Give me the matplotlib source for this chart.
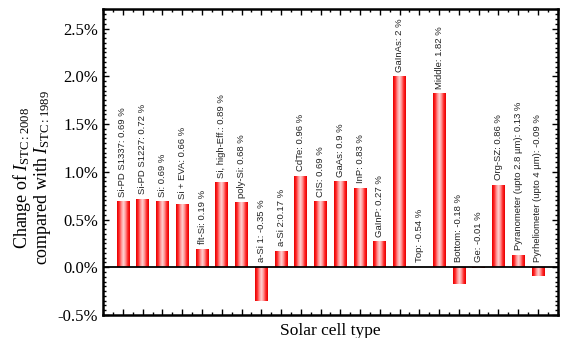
"""Change of short-circuit current between the 1989 and 2008 reference spectra."""

import matplotlib

matplotlib.use("Agg")
import matplotlib.pyplot as plt
import numpy as np
from matplotlib.colors import LinearSegmentedColormap
from matplotlib.patches import Rectangle
from matplotlib.ticker import MultipleLocator, FuncFormatter

plt.rcParams["mathtext.fontset"] = "custom"
plt.rcParams["mathtext.rm"] = "Liberation Serif"
plt.rcParams["mathtext.it"] = "Liberation Serif:italic"

CELL_NAMES = [
    "Si-PD S1337:", "Si-PD S1227:", "Si:", "Si + EVA:", "flt-Si:",
    "Si, high-Eff.:", "poly-Si:", "a-Si 1:", "a-Si 2:", "CdTe:", "CIS:",
    "GaAs:", "InP:", "GaInP:", "GaInAs:", "Top:", "Middle:", "Bottom:",
    "Ge:", "Org-SZ:", "Pyranometer (upto 2.8 µm):", "Pyrheliometer (upto 4 µm):",
]
LABEL_VALUES = ["0.69", "0.72", "0.69", "0.66", "0.19", "0.89", "0.68", "-0.35",
                "0.17", "0.96", "0.69", "0.9", "0.83", "0.27", "2", "-0.54",
                "1.82", "-0.18", "-0.01", "0.86", "0.13", "-0.09"]
# the top sub-cell has no bar in the plot, only its label
SHOW_BAR = [True] * 15 + [False] + [True] * 6
LABEL_SEP = {"a-Si 2:": ""}

values = np.array([float(v) for v in LABEL_VALUES])
x = np.arange(1, len(values) + 1)
bar_w = 0.64

fig, ax = plt.subplots(figsize=(5.61, 3.38), dpi=100)
fig.subplots_adjust(left=0.184, right=0.994, top=0.972, bottom=0.068)

shade = LinearSegmentedColormap.from_list(
    "bar_shade", ["#e80000", "#ff2828", "#ff9090", "#ffd4d4", "#ff9090", "#ff2828", "#e80000"]
)
grad = np.linspace(0, 1, 64).reshape(1, -1)

for xi, v, show in zip(x, values, SHOW_BAR):
    if not show:
        continue
    y0, y1 = min(0, v), max(0, v)
    rect = Rectangle((xi - bar_w / 2, y0), bar_w, y1 - y0, facecolor="none", edgecolor="none")
    ax.add_patch(rect)
    im = ax.imshow(grad, cmap=shade, aspect="auto",
                   extent=(xi - bar_w / 2, xi + bar_w / 2, y0, y1), zorder=2)
    im.set_clip_path(rect)

for xi, name, v in zip(x, CELL_NAMES, LABEL_VALUES):
    sep = LABEL_SEP.get(name, " ")
    top = max(0.0, float(v)) if name != "Top:" else 0.0
    ax.text(xi, top + 0.05, f"{name}{sep}{v} %", rotation=90, ha="center", va="bottom",
            fontsize=6.8, family="Liberation Sans", color="#222222")

ax.axhline(0, color="black", lw=1.3, zorder=3)

ax.set_xlim(0, len(values) + 1)
ax.set_ylim(-0.5, 2.7)
ax.xaxis.set_major_locator(MultipleLocator(1))
ax.xaxis.set_minor_locator(MultipleLocator(0.5))
ax.xaxis.set_major_formatter(FuncFormatter(lambda v, p: ""))
ax.yaxis.set_major_locator(MultipleLocator(0.5))
ax.yaxis.set_minor_locator(MultipleLocator(0.05))
ax.yaxis.set_major_formatter(FuncFormatter(lambda v, p: f"{v:.1f}%"))
ax.tick_params(which="both", direction="in", top=True, right=True, width=1.0)
ax.tick_params(which="major", length=4.5)
ax.tick_params(which="minor", length=2.2)
for lab in ax.get_yticklabels():
    lab.set_family("Liberation Serif")
    lab.set_fontsize(12)
for sp in ax.spines.values():
    sp.set_linewidth(1.8)

ax.set_xlabel("Solar cell type", family="Liberation Serif", fontsize=12.5, labelpad=2)
ax.set_ylabel("Change of $I_{\\mathrm{STC:2008}}$\ncompared with $I_{\\mathrm{STC:1989}}$",
              family="Liberation Serif", fontsize=13, linespacing=0.95)
ax.yaxis.set_label_coords(-0.11, 0.45)

fig.savefig("out.png", dpi=100)
